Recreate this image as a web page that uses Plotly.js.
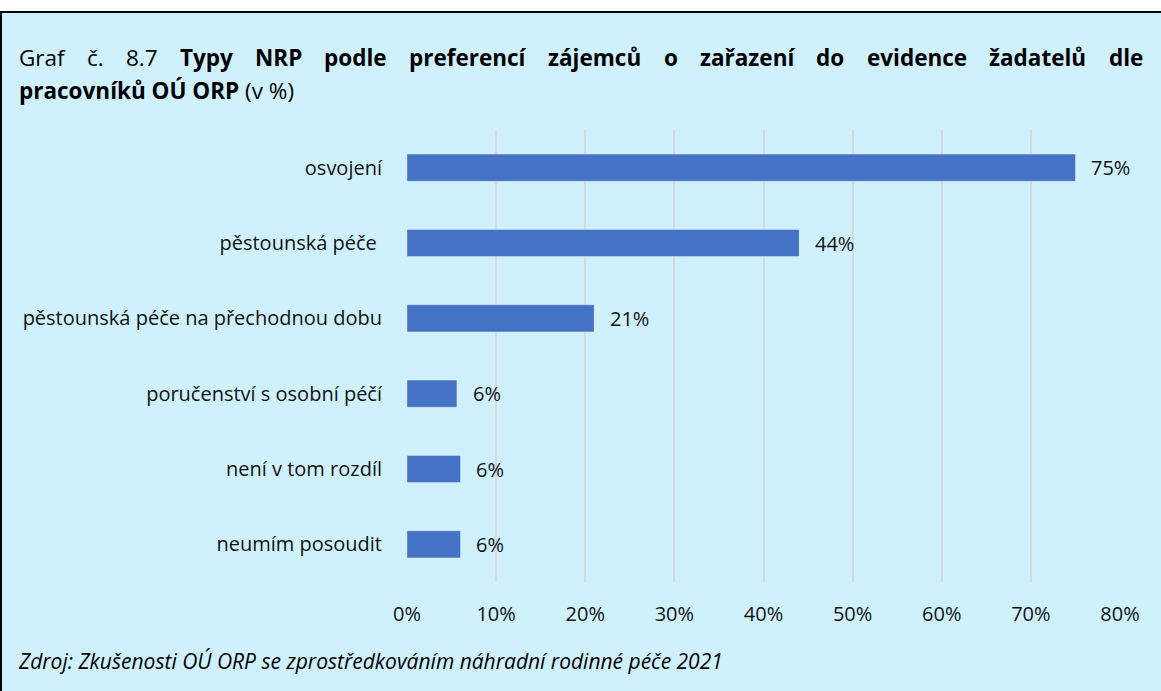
<!DOCTYPE html>
<html>
<head>
<meta charset="utf-8">
<script src="https://cdn.plot.ly/plotly-3.0.1.min.js"></script>
<style>
  html, body { margin: 0; padding: 0; background: #ffffff; }
  #wrap {
    position: absolute; top: 11px; left: 0; width: 1161px; height: 680px;
    box-sizing: border-box; border-top: 2px solid #000; border-left: 2px solid #000;
    background: #CFF1FD; overflow: hidden;
  }
  #chart { width: 1159px; height: 678px; }
</style>
</head>
<body>
<div id="wrap"><div id="chart"></div></div>
<script>
// ---- data ----
const categories = [
  "osvojení",
  "pěstounská péče\u00a0",
  "pěstounská péče na přechodnou dobu",
  "poručenství s osobní péčí",
  "není v tom rozdíl",
  "neumím posoudit"
];
const values = [75, 44, 21, 5.6, 6.0, 6.0];
const xTickVals = [0, 10, 20, 30, 40, 50, 60, 70, 80];
const xTickText = ["0%", "10%", "20%", "30%", "40%", "50%", "60%", "70%", "80%"];
const titleLine1Regular = ["Graf", "č.", "8.7"];
const titleLine1Bold = ["Typy", "NRP", "podle", "preferencí", "zájemců", "o", "zařazení", "do", "evidence", "žadatelů", "dle"];
const titleLine2 = "<b>pracovníků OÚ ORP</b> (v %)";
const sourceText = "<i>Zdroj: Zkušenosti OÚ ORP se zprostředkováním náhradní rodinné péče 2021</i>";

// ---- layout geometry ----
const W = 1159, H = 678;
const M = { l: 405, r: 41, t: 117, b: 109 };
const plotW = W - M.l - M.r, plotH = H - M.t - M.b;
const OX = 2, OY = 13; // chart origin in page pixels
function px2x(px) { return (px - OX - M.l) / plotW; }
function py2y(py) { return (H - M.b - (py - OY)) / plotH; }

const FONT = "Open Sans";
const txt = "#111111";

// justified first title line
const titleSize = 22.5;
const canvas = document.createElement("canvas");
const ctx = canvas.getContext("2d");
const words = [];
titleLine1Regular.forEach(w => words.push({ w, bold: false }));
titleLine1Bold.forEach(w => words.push({ w, bold: true }));
let total = 0;
words.forEach(o => {
  ctx.font = (o.bold ? "bold " : "") + titleSize + "px '" + FONT + "'";
  o.width = ctx.measureText(o.w).width;
  total += o.width;
});
const left = 18, right = 1142;
const gap = (right - left - total) / (words.length - 1);
const annotations = [];
let cx = left;
words.forEach(o => {
  annotations.push({
    xref: "paper", yref: "paper", x: px2x(cx), y: py2y(58),
    xanchor: "left", yanchor: "middle", showarrow: false, borderpad: 0,
    text: o.bold ? "<b>" + o.w + "</b>" : o.w,
    font: { family: FONT, size: titleSize, color: "#000" }
  });
  cx += o.width + gap;
});
annotations.push({
  xref: "paper", yref: "paper", x: px2x(18), y: py2y(90),
  xanchor: "left", yanchor: "middle", showarrow: false, borderpad: 0,
  text: titleLine2, font: { family: FONT, size: titleSize, color: "#000" }
});
annotations.push({
  xref: "paper", yref: "paper", x: px2x(17), y: py2y(661),
  xanchor: "left", yanchor: "middle", showarrow: false, borderpad: 0,
  text: sourceText, font: { family: FONT, size: 21, color: "#000" }
});
// data labels
categories.forEach((c, i) => {
  annotations.push({
    x: values[i], y: c, xref: "x", yref: "y",
    xanchor: "left", yanchor: "middle", xshift: 14, showarrow: false,
    text: Math.round(values[i]) + "%",
    font: { family: FONT, size: 20, color: txt }
  });
});

const trace = {
  type: "bar", orientation: "h",
  x: values, y: categories,
  marker: { color: "#4472C4", line: { color: "rgba(255,255,255,0.35)", width: 1 } },
  hoverinfo: "skip"
};

const layout = {
  width: W, height: H,
  margin: M,
  paper_bgcolor: "rgba(0,0,0,0)",
  plot_bgcolor: "rgba(0,0,0,0)",
  showlegend: false,
  bargap: 0.64,
  font: { family: FONT, color: txt },
  xaxis: {
    range: [0, 80], tickvals: xTickVals, ticktext: xTickText,
    showgrid: true, gridcolor: "#D9D9D9", gridwidth: 2,
    zeroline: false, showline: false,
    ticks: "outside", ticklen: 14, tickcolor: "rgba(0,0,0,0)",
    tickfont: { family: FONT, size: 20, color: txt },
    fixedrange: true
  },
  yaxis: {
    autorange: "reversed", type: "category",
    showgrid: false, zeroline: false, showline: false,
    ticks: "outside", ticklen: 20, tickcolor: "rgba(0,0,0,0)",
    tickfont: { family: FONT, size: 20, color: txt },
    fixedrange: true
  },
  annotations: annotations
};

Plotly.newPlot("chart", [trace], layout, { displayModeBar: false, staticPlot: true });
</script>
</body>
</html>
